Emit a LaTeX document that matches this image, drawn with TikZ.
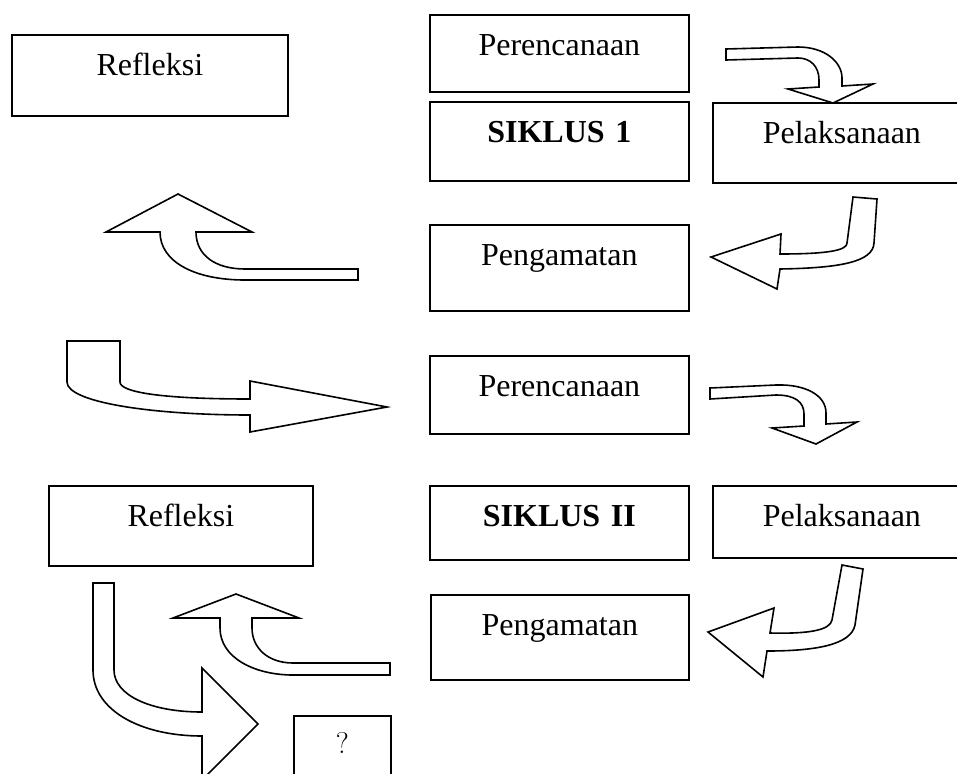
\documentclass[tikz,border=0pt]{standalone}
\usepackage{fontspec}
\newfontfamily\timesfont{Liberation Serif}
\usepackage{tikz}
\usetikzlibrary{positioning}

\begin{document}
\begin{tikzpicture}[
        x=1pt, y=-1pt,
        block/.style={rectangle, draw=black, line width=1.7pt, fill=white, inner sep=0pt, anchor=north west, align=center, text height=41pt, font=\timesfont\fontsize{32}{36}\selectfont},
        bigarrow/.style={draw=black, line width=1.6pt, fill=white, line join=miter}
    ]
    \clip (0,0) rectangle (957,773);
    % siklus 1
    \node[block, text width=276pt, text depth=40pt] (refleksiA) at (11,34) {Refleksi};
    \node[block, text width=259pt, text depth=36pt] (perencanaanA) at (429,14) {Perencanaan};
    \node[block, text width=259pt, text depth=38pt] (siklusA) at (429,101) {\textbf{SIKLUS 1}};
    \node[block, text width=258pt, text depth=39pt] (pelaksanaanA) at (712,102) {Pelaksanaan};
    \node[block, text width=259pt, text depth=45pt] (pengamatanA) at (429,224) {Pengamatan};
    % siklus 2
    \node[block, text width=259pt, text depth=37pt] (perencanaanB) at (429,355) {Perencanaan};
    \node[block, text width=259pt, text depth=33pt] (siklusB) at (429,485) {\textbf{SIKLUS II}};
    \node[block, text width=258pt, text depth=31pt] (pelaksanaanB) at (712,485) {Pelaksanaan};
    \node[block, text width=264pt, text depth=39pt] (refleksiB) at (48,485) {Refleksi};
    \node[block, text width=258pt, text depth=44pt] (pengamatanB) at (430,594) {Pengamatan};
    \node[block, text width=97pt, text height=38pt, text depth=40pt, font=\fontsize{30}{34}\selectfont] (tanya) at (293,715) {?};
    % block arrows
    \draw[bigarrow] (726,49) -- (798,47) .. controls (825,47) and (842,62) .. (842,78) -- (842,86) -- (873,84) -- (833,103) -- (788,89) -- (819,87) -- (819,80) .. controls (819,66) and (810,58) .. (798,58) -- (726,60) -- cycle;
    \draw[bigarrow] (853,197) -- (877,199) -- (874,243) .. controls (873,262) and (840,268) .. (780,269) -- (777,289) -- (711,257) -- (781,234) -- (780,254) .. controls (830,254) and (847,250) .. (847,243) -- cycle;
    \draw[bigarrow] (358,269) -- (245,269) .. controls (215,269) and (196,255) .. (196,232) -- (252,232) -- (178,194) -- (106,232) -- (160,232) .. controls (160,262) and (195,280) .. (245,280) -- (358,280) -- cycle;
    \draw[bigarrow] (67,341) -- (67,382) .. controls (67,402) and (150,415) .. (250,415) -- (250,432) -- (387,407) -- (250,381) -- (250,399) .. controls (160,399) and (120,392) .. (120,382) -- (120,341) -- cycle;
    \draw[bigarrow] (710,388) -- (776,385) .. controls (805,384) and (826,395) .. (826,413) -- (826,424) -- (857,422) -- (816,444) -- (772,428) -- (804,426) -- (804,414) .. controls (804,402) and (795,395) .. (776,395) -- (710,399) -- cycle;
    \draw[bigarrow] (842,565) -- (863,569) -- (855,625) .. controls (851,645) and (815,651) .. (767,651) -- (763,677) -- (708,632) -- (774,608) -- (770,633) .. controls (810,634) and (830,630) .. (832,620) -- cycle;
    \draw[bigarrow] (390,663) -- (293,663) .. controls (268,663) and (252,648) .. (252,628) -- (252,618) -- (299,618) -- (236,594) -- (173,618) -- (220,618) -- (220,628) .. controls (220,658) and (255,675) .. (293,675) -- (390,675) -- cycle;
    \draw[bigarrow] (93,583) -- (93,670) .. controls (93,710) and (140,736) .. (202,736) -- (202,780) -- (258,724) -- (202,668) -- (202,712) .. controls (150,712) and (114,695) .. (114,670) -- (114,583) -- cycle;
\end{tikzpicture}
\end{document}
